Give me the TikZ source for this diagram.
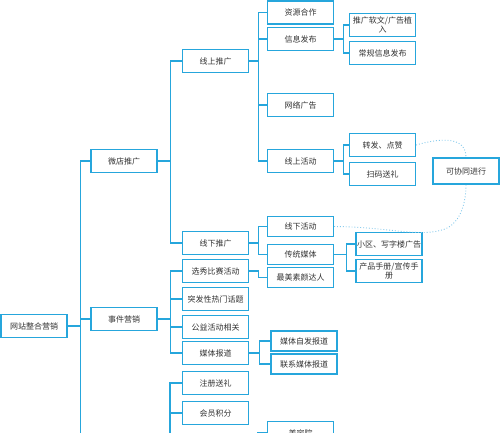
\documentclass[tikz,border=0pt]{standalone}
\usepackage{fontspec}
\newfontfamily\cjk{Noto Sans CJK SC}
\definecolor{lineblue}{RGB}{38,166,220}
\definecolor{dotblue}{RGB}{130,200,235}
\definecolor{txt}{RGB}{51,51,51}

\begin{document}
\begin{tikzpicture}[x=1pt,y=-1pt,
    box/.style={draw=lineblue, line width=1.3pt, fill=white, text=txt,
                minimum width=66pt, minimum height=23pt, inner sep=1pt,
                align=center, font=\cjk\fontsize{8}{9}\selectfont},
    small/.style={box, minimum height=20pt},
    link/.style={draw=lineblue, line width=1.3pt},
    together/.style={draw=dotblue, line width=0.9pt, dotted}]
    \useasboundingbox (0,0) rectangle (500,432);
    \clip (0,0) rectangle (500,432);

    \node[box] (root) at (34,326)  {网站整合营销};
    \node[box] (wd)   at (124,161) {微店推广};
    \node[box] (sj)   at (124,319) {事件营销};

    \node[box] (xs)   at (215.5,61)  {线上推广};
    \node[box] (xx)   at (215.5,243) {线下推广};
    \node[box] (xxs)  at (215.5,271) {选秀比赛活动};
    \node[box] (tf)   at (215.5,299) {突发性热门话题};
    \node[box] (gy)   at (215.5,327) {公益活动相关};
    \node[box] (mt)   at (215.5,353) {媒体报道};
    \node[box] (zc)   at (215.5,383) {注册送礼};
    \node[box] (hy)   at (215.5,413) {会员积分};

    \node[box]   (zy)  at (300.5,12.5) {资源合作};
    \node[box]   (xf)  at (300.5,39)   {信息发布};
    \node[box]   (wl)  at (300.5,105)  {网络广告};
    \node[box]   (xh)  at (300.5,161)  {线上活动};
    \node[small] (xxh) at (300.5,226.5){线下活动};
    \node[small] (ct)  at (300.5,254.5){传统媒体};
    \node[small] (zm)  at (300.5,277.5){最美素颜达人};
    \node[small] (mz)  at (304,341)    {媒体自发报道};
    \node[small] (lx)  at (304,364)    {联系媒体报道};
    \node[box]   (mr)  at (300.5,433)  {美容院};

    \node[box] (tg) at (382.5,25)  {推广软文/广告植\\入};
    \node[box] (cg) at (382.5,53)  {常规信息发布};
    \node[box] (zf) at (382.5,145) {转发、点赞};
    \node[box] (sm) at (382.5,174) {扫码送礼};
    \node[box] (xq) at (389,244)   {小区、写字楼广告};
    \node[box] (cp) at (389,271)   {产品手册/宣传手\\册};

    \node[box, minimum height=26pt] (kx) at (466,171) {可协同进行};

    \draw[link] (root.east) -- ++(13,0) |- (wd.west);
    \draw[link] (root.east) -- ++(13,0) |- (sj.west);
    \draw[link] (root.east) -- ++(13,0) -- ++(0,120);

    \draw[link] (wd.east) -- ++(13,0) |- (xs.west);
    \draw[link] (wd.east) -- ++(13,0) |- (xx.west);

    \draw[link] (xs.east) -- ++(9,0) |- (zy.west);
    \draw[link] (xs.east) -- ++(9,0) |- (xf.west);
    \draw[link] (xs.east) -- ++(9,0) |- (wl.west);
    \draw[link] (xs.east) -- ++(9,0) |- (xh.west);

    \draw[link] (xf.east) -- ++(9,0) |- (tg.west);
    \draw[link] (xf.east) -- ++(9,0) |- (cg.west);
    \draw[link] (xh.east) -- ++(9,0) |- (zf.west);
    \draw[link] (xh.east) -- ++(9,0) |- (sm.west);

    \draw[link] (xx.east) -- ++(9,0) |- (xxh.west);
    \draw[link] (xx.east) -- ++(9,0) |- (ct.west);
    \draw[link] (ct.east) -- ++(12,0) |- (xq.west);
    \draw[link] (ct.east) -- ++(12,0) |- (cp.west);

    \draw[link] (sj.east) -- ++(13,0) |- (xxs.west);
    \draw[link] (sj.east) -- ++(13,0) |- (tf.west);
    \draw[link] (sj.east) -- ++(13,0) |- (gy.west);
    \draw[link] (sj.east) -- ++(13,0) |- (mt.west);
    \draw[link] (xxs.east) -- ++(9,0) |- (zm.west);
    \draw[link] (mt.east) -- ++(10,0) |- (mz.west);
    \draw[link] (mt.east) -- ++(10,0) |- (lx.west);

    \draw[link] (zc.west) -- ++(-12,0) |- (hy.west);
    \draw[link] (zc.west) -- ++(-12,0) -- ++(0,70);
    \draw[link] (mr.west) -- ++(-9,0) -- ++(0,20);

    \draw[together] (zf.east) .. controls (440,138) and (466,136) .. (kx.north);
    \draw[together] (xxh.east) .. controls (390,227) and (420,238) .. (445,229)
                    .. controls (462,222) and (466,200) .. (kx.south);
\end{tikzpicture}
\end{document}
